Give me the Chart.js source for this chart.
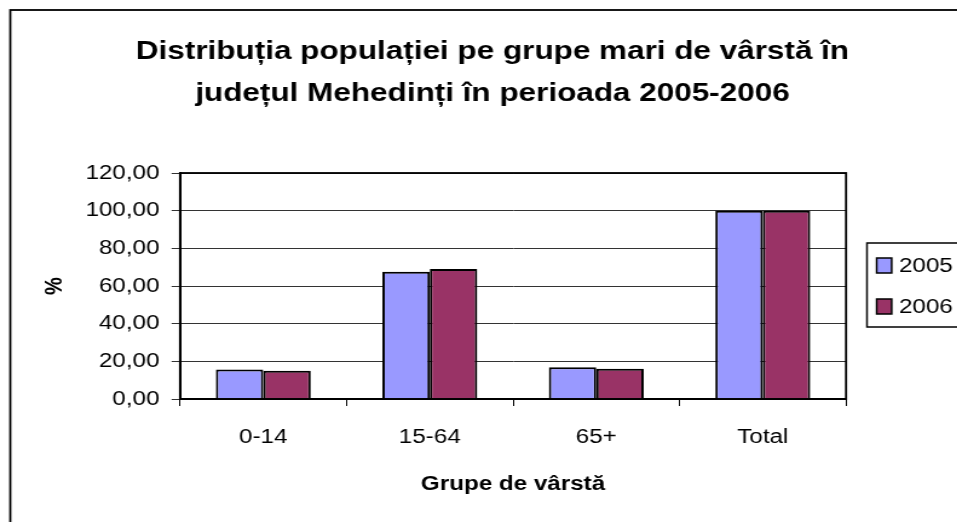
<!DOCTYPE html>
<html>
<head>
<meta charset="utf-8">
<script src="https://cdn.jsdelivr.net/npm/chart.js@4/dist/chart.umd.min.js"></script>
<style>
  html, body { margin: 0; padding: 0; background: #fff; overflow: hidden; }
  /* the original picture is stretched horizontally */
  #grafic { display: block; transform: scaleX(1.21); transform-origin: 0 0; }
</style>
</head>
<body>
<canvas id="grafic" width="814" height="522"></canvas>
<script>
// Date pentru grafic
const grupe = ['0-14', '15-64', '65+', 'Total'];
const ani = ['2005', '2006'];
const valori2005 = [15.6, 67.6, 16.8, 100];
const valori2006 = [15.0, 69.0, 16.0, 100];
const ticksY = [0, 20, 40, 60, 80, 100, 120];

const culori = ['#9999FF', '#993366'];
const font = '"Liberation Sans", Arial, sans-serif';

// rame: chenarul graficului, zona de desenare si legenda
const rame = {
    id: 'rame',
    afterDraw(chart) {
        const ctx = chart.ctx;
        const a = chart.chartArea;
        ctx.save();
        ctx.strokeStyle = '#000';
        ctx.lineWidth = 1.8;
        ctx.strokeRect(8.5, 10, 800, 530);
        ctx.strokeRect(a.left, a.top, a.right - a.left, a.bottom - a.top);

        // legenda
        ctx.lineWidth = 1.5;
        ctx.strokeRect(716.5, 243, 90, 84);
        ctx.font = '20px ' + font;
        ctx.textBaseline = 'middle';
        chart.data.datasets.forEach((ds, i) => {
            const y = 258 + i * 41;
            ctx.fillStyle = ds.backgroundColor;
            ctx.fillRect(724.5, y, 12.4, 15);
            ctx.lineWidth = 1.5;
            ctx.strokeRect(724.5, y, 12.4, 15);
            ctx.fillStyle = '#000';
            ctx.fillText(ds.label, 743, y + 8);
        });
        ctx.restore();
    }
};

const ctx = document.getElementById('grafic').getContext('2d');

const grafic = new Chart(ctx, {
    type: 'bar',
    data: {
        labels: grupe,
        datasets: [{
            label: ani[0],
            data: valori2005,
            yAxisID: 'y',
            backgroundColor: culori[0],
            borderColor: '#000',
            borderWidth: 2
        }, {
            label: ani[1],
            data: valori2006,
            yAxisID: 'y',
            backgroundColor: culori[1],
            borderColor: '#000',
            borderWidth: 2
        }]
    },
    options: {
        responsive: false,
        animation: false,
        devicePixelRatio: 1,
        layout: { padding: 0 },
        datasets: {
            bar: { categoryPercentage: 0.57, barPercentage: 1 }
        },
        plugins: {
            legend: { display: false },
            tooltip: { enabled: false },
            title: {
                display: true,
                text: ['Distribuția populației pe grupe mari de vârstă în',
                       'județul Mehedinți în perioada 2005-2006'],
                color: '#000',
                font: { family: font, size: 26, weight: 'bold', lineHeight: 42 / 26 },
                padding: { top: 31, bottom: 58 }
            }
        },
        scales: {
            x: {
                grid: { offset: true, drawOnChartArea: false, drawTicks: true, tickLength: 7, color: '#000', lineWidth: 1 },
                border: { display: true, color: '#000', width: 2 },
                ticks: {
                    color: '#000',
                    padding: 19,
                    font: { family: font, size: 20 }
                },
                title: {
                    display: true,
                    text: 'Grupe de vârstă',
                    color: '#000',
                    font: { family: font, size: 20, weight: 'bold' },
                    padding: { top: 0, bottom: 26 }
                },
                afterFit(scale) { scale.height = 123; }
            },
            y: {
                min: 0,
                max: 120,
                afterBuildTicks(scale) { scale.ticks = ticksY.map(v => ({ value: v })); },
                grid: { color: '#333', lineWidth: 1, tickLength: 7 },
                border: { display: true, color: '#000', width: 2 },
                ticks: {
                    color: '#000',
                    padding: 10,
                    font: { family: font, size: 20 },
                    callback: v => v.toFixed(2).replace('.', ',')
                },
                title: {
                    display: true,
                    text: '%',
                    color: '#000',
                    font: { family: font, size: 20, weight: 'bold' },
                    padding: { top: 33, bottom: 0 }
                },
                afterFit(scale) { scale.width = 148.8; }
            },
            // loc gol in dreapta pentru legenda
            spatiu: {
                axis: 'y',
                position: 'right',
                grid: { display: false },
                border: { display: false },
                ticks: { display: false },
                afterFit(scale) { scale.width = 114.8; }
            }
        }
    },
    plugins: [rame]
});
</script>
</body>
</html>
